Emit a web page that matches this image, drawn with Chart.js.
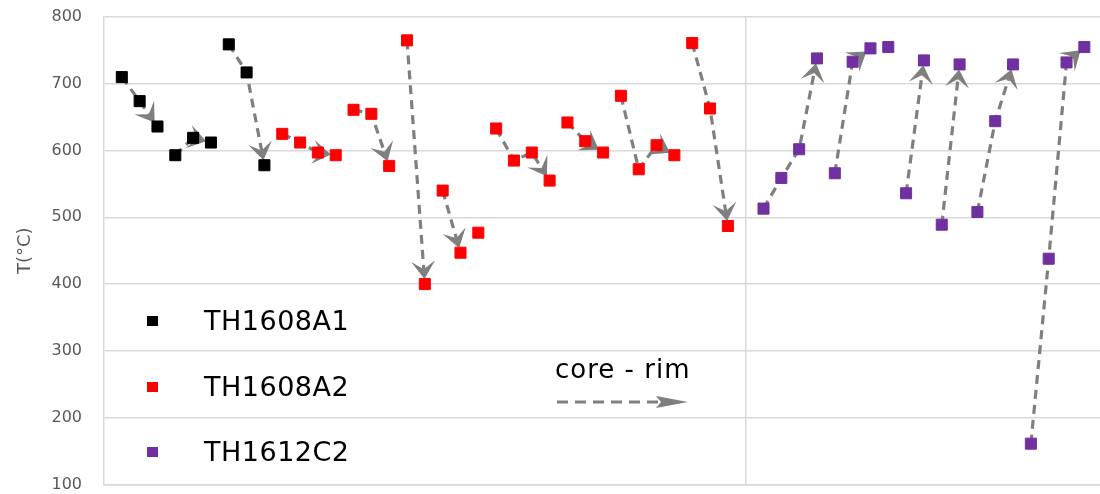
<!DOCTYPE html>
<html>
<head>
<meta charset="utf-8">
<title>T core - rim</title>
<script src="https://cdn.jsdelivr.net/npm/chart.js@4.4.1/dist/chart.umd.min.js"></script>
<style>
  html, body { margin: 0; padding: 0; background: #fff; overflow: hidden; }
  #wrap { position: relative; width: 1120px; height: 494px; }
  #wrap canvas { position: absolute; left: 0; top: 0; }
  .key { position: absolute; left: 204px; font-family: 'DejaVu Sans', sans-serif; font-size: 27px;
         line-height: 27px; color: #000; letter-spacing: 0.5px; white-space: nowrap; }
  .swatch { position: absolute; left: 147px; width: 11px; height: 10px; }
  #coreRim { position: absolute; left: 555px; top: 356px; font-family: 'DejaVu Sans', sans-serif;
             font-size: 26px; line-height: 26px; letter-spacing: 1px; color: #000; white-space: nowrap; }
  #coreRimArrow { position: absolute; left: 555px; top: 394px; }
</style>
</head>
<body>
<div id="wrap">
  <canvas id="tempChart" width="1120" height="494"></canvas>
  <div id="coreRim">core - rim</div>
  <svg id="coreRimArrow" width="136" height="16">
    <line x1="2" y1="8" x2="110" y2="8" stroke="#7f7f7f" stroke-width="3.2" stroke-dasharray="11 7"/>
    <polygon points="101,2 133,8 101,14 106,8" fill="#7f7f7f"/>
  </svg>
</div>
<script>
// series
const seriesNames = ["TH1608A1", "TH1608A2", "TH1612C2"];
const seriesColors = ["#000000", "#ff0000", "#7030a0"];

// spot number along the x axis and temperature (°C) for each sample
const a1Spot = [0, 1, 2, 3, 4, 5, 6, 7, 8];
const a1Temp = [710, 674, 636, 593, 619, 612, 759, 717, 578];

const a2Spot = [9, 10, 11, 12, 13, 14, 15, 16, 17, 18, 19, 20, 21, 22, 23, 24, 25,
                26, 27, 28, 29, 30, 31, 32, 33, 34];
const a2Temp = [625, 612, 597, 593, 661, 655, 577, 765, 400, 540, 447, 477, 633,
                585, 597, 555, 642, 614, 597, 682, 572, 608, 593, 761, 663, 487];

const c2Spot = [36, 37, 38, 39, 40, 41, 42, 43, 44, 45, 46, 47, 48, 49, 50, 51, 52, 53, 54];
const c2Temp = [513, 559, 602, 738, 566, 733, 753, 755, 536, 735, 489, 729, 508, 644,
                729, 161, 438, 732, 755];

// divider between the TH1608 and TH1612 samples
const sectionBreak = 35;
const yTicks = [100, 200, 300, 400, 500, 600, 700, 800];

// core -> rim traverses (spot numbers, in order)
const traverses = [
    [0, 1, 2], [3, 4, 5], [6, 7, 8],
    [9, 10, 11, 12], [13, 14, 15], [16, 17], [18, 19], [21, 22, 23, 24],
    [25, 26, 27], [28, 29, 30, 31], [32, 33, 34],
    [36, 37, 38, 39], [40, 41, 42], [44, 45], [46, 47], [48, 49, 50], [51, 52, 53, 54]
];

const ARROW_GREY = "#7f7f7f";
const spots = [a1Spot, a2Spot, c2Spot];
const temps = [a1Temp, a2Temp, c2Temp];

// lookup temperature by spot number
const tempAt = {};
spots.forEach((list, s) => list.forEach((n, i) => { tempAt[n] = temps[s][i]; }));

const traversePlugin = {
    id: "traverses",
    beforeDatasetsDraw(chart) {
        const { ctx } = chart;
        const xs = chart.scales.x, ys = chart.scales.y;
        ctx.save();
        ctx.strokeStyle = ARROW_GREY;
        ctx.fillStyle = ARROW_GREY;
        ctx.lineWidth = 3.2;
        traverses.forEach(path => {
            const pts = path.map(n => ({ x: xs.getPixelForValue(n), y: ys.getPixelForValue(tempAt[n]) }));
            const a = pts[pts.length - 2], b = pts[pts.length - 1];
            const ang = Math.atan2(b.y - a.y, b.x - a.x);
            const cos = Math.cos(ang), sin = Math.sin(ang);
            const tip = { x: b.x - cos * 5, y: b.y - sin * 5 };
            const notch = { x: tip.x - cos * 10, y: tip.y - sin * 10 };
            const back = { x: tip.x - cos * 18, y: tip.y - sin * 18 };

            ctx.setLineDash([9, 6]);
            ctx.beginPath();
            ctx.moveTo(pts[0].x, pts[0].y);
            for (let i = 1; i < pts.length - 1; i++) ctx.lineTo(pts[i].x, pts[i].y);
            ctx.lineTo(notch.x, notch.y);
            ctx.stroke();

            ctx.setLineDash([]);
            ctx.beginPath();
            ctx.moveTo(tip.x, tip.y);
            ctx.lineTo(back.x - sin * 12, back.y + cos * 12);
            ctx.lineTo(notch.x, notch.y);
            ctx.lineTo(back.x + sin * 12, back.y - cos * 12);
            ctx.closePath();
            ctx.fill();
        });
        ctx.restore();
    }
};

const datasets = seriesNames.map((name, s) => ({
    label: name,
    data: spots[s].map((n, i) => ({ x: n, y: temps[s][i] })),
    backgroundColor: seriesColors[s],
    borderColor: seriesColors[s],
    pointStyle: "rect",
    pointRadius: 7.8,
    pointBorderWidth: 1,
    showLine: false
}));

new Chart(document.getElementById("tempChart").getContext("2d"), {
    type: "scatter",
    data: { datasets: datasets },
    plugins: [traversePlugin],
    options: {
        responsive: false,
        animation: false,
        layout: { autoPadding: false, padding: { left: 0, right: 0, top: 17, bottom: 9 } },
        plugins: { legend: { display: false }, tooltip: { enabled: false } },
        scales: {
            x: {
                type: "linear",
                min: -1,
                max: 56,
                afterBuildTicks(scale) { scale.ticks = [{ value: sectionBreak }]; },
                afterFit(scale) { scale.height = 0; },
                ticks: { display: false },
                grid: { color: "#d9d9d9", lineWidth: 1.5, drawTicks: false },
                border: { color: "#d9d9d9", width: 1.5 }
            },
            y: {
                min: 100,
                max: 800,
                afterBuildTicks(scale) { scale.ticks = yTicks.map(v => ({ value: v })); },
                afterFit(scale) { scale.width = 104; },
                // invisible tick marks give the gap between labels and axis
                grid: { color: "#d9d9d9", lineWidth: 1.5, drawTicks: true, tickLength: 22, tickColor: "rgba(0,0,0,0)" },
                border: { color: "#d9d9d9", width: 1.5 },
                ticks: { color: "#595959", padding: 0, font: { family: "DejaVu Sans", size: 16 } },
                title: {
                    display: true,
                    text: "T(°C)",
                    color: "#595959",
                    font: { family: "DejaVu Sans", size: 18 },
                    padding: { top: 15, bottom: 0 }
                }
            }
        }
    }
});

// legend, inside the plot at lower left
const wrap = document.getElementById("wrap");
seriesNames.forEach((name, s) => {
    const sw = document.createElement("div");
    sw.className = "swatch";
    sw.style.top = (316 + s * 65.5) + "px";
    sw.style.background = seriesColors[s];
    wrap.appendChild(sw);

    const key = document.createElement("div");
    key.className = "key";
    key.style.top = (307 + s * 65.5) + "px";
    key.textContent = name;
    wrap.appendChild(key);
});
</script>
</body>
</html>
